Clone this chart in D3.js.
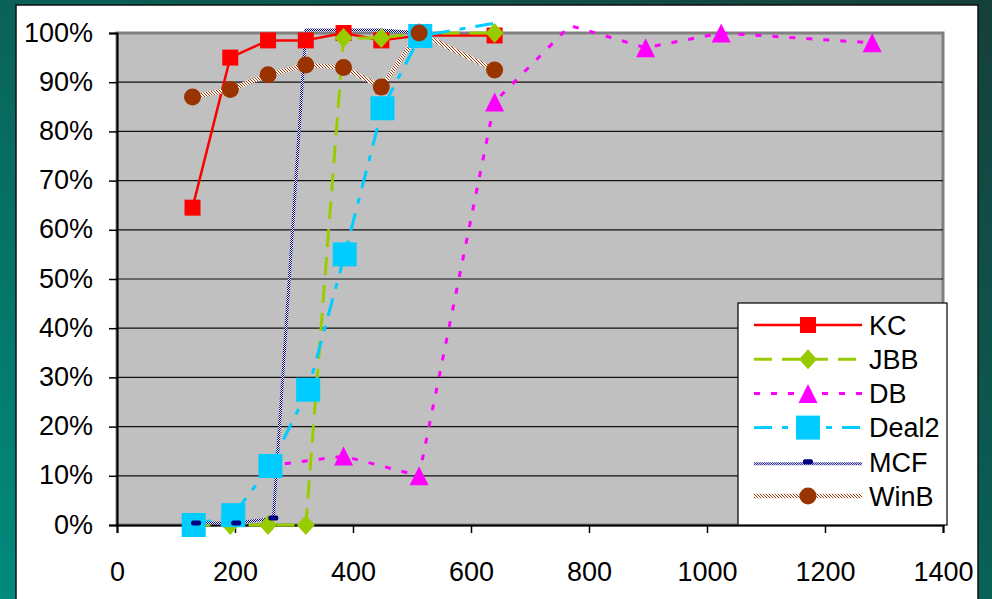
<!DOCTYPE html>
<html>
<head>
<meta charset="utf-8">
<script src="https://cdn.jsdelivr.net/npm/d3@7"></script>
<style>
  html, body { margin: 0; padding: 0; background: #0d5a52; }
  svg { display: block; font-family: "Liberation Sans", Arial, sans-serif; }
</style>
</head>
<body>
<script>
// Data (x = problem size, y = percent)
const xTicks = [0, 200, 400, 600, 800, 1000, 1200, 1400];
const yTicks = [0, 10, 20, 30, 40, 50, 60, 70, 80, 90, 100];

const kcX = [128, 192, 256, 320, 384, 448, 512, 640];
const kcY = [64.5, 95, 98.5, 98.5, 100, 98.5, 99.5, 99.5];

const jbbX = [128, 192, 256, 320, 384, 448, 512, 640];
const jbbY = [0, 0, 0, 0, 99, 99, 100, 100];

const dbX = [256, 384, 512, 640, 768, 896, 1024, 1280];
const dbY = [12, 14, 10, 86, 101.5, 97, 100, 98];

const deal2X = [130, 197, 260, 324, 386, 450, 514, 640];
const deal2Y = [0, 2, 12, 27.5, 55, 84.7, 99.4, 102];

const mcfX = [134, 202, 265, 320, 384, 448, 514];
const mcfY = [0.4, 0.4, 1.4, 100.6, 100.6, 100.6, 100];

const winbX = [128, 192, 256, 320, 384, 448, 512, 640];
const winbY = [87, 88.5, 91.5, 93.5, 93, 89, 100, 92.5];

const W = 992, H = 599;
const plot = { left: 117, top: 33, right: 943, bottom: 525 };

const svg = d3.select("body").append("svg")
    .attr("width", W)
    .attr("height", H);

const defs = svg.append("defs");

// teal slide background
const bg = defs.append("linearGradient").attr("id", "bg")
    .attr("x1", 1).attr("y1", 0).attr("x2", 0).attr("y2", 1);
bg.append("stop").attr("offset", 0).attr("stop-color", "#163f39");
bg.append("stop").attr("offset", 0.45).attr("stop-color", "#0a5e55");
bg.append("stop").attr("offset", 1).attr("stop-color", "#008b7d");

// dotted strokes for the hatched lines
function hatch(id, color, n) {
    const p = defs.append("pattern").attr("id", id)
        .attr("width", n).attr("height", n)
        .attr("patternUnits", "userSpaceOnUse");
    p.append("rect").attr("width", n).attr("height", n).attr("fill", "#fff");
    d3.range(n).forEach(i => {
        p.append("rect").attr("x", i).attr("y", (i * (n === 2 ? 1 : 1)) % n)
            .attr("width", 1).attr("height", 1).attr("fill", color);
    });
}
hatch("hatchNavy", "#000080", 2);
hatch("hatchBrown", "#993300", 3);

svg.append("rect").attr("width", W).attr("height", H).attr("fill", "url(#bg)");
svg.append("rect")
    .attr("x", 16).attr("y", 5).attr("width", 962).attr("height", H)
    .attr("fill", "#fff").attr("stroke", "#111").attr("stroke-width", 1.5);

const x = d3.scaleLinear().domain([0, 1400]).range([plot.left, plot.right]);
const y = d3.scaleLinear().domain([0, 100]).range([plot.bottom, plot.top]);

// plot area
svg.append("rect")
    .attr("x", plot.left).attr("y", plot.top)
    .attr("width", plot.right - plot.left).attr("height", plot.bottom - plot.top)
    .attr("fill", "#c0c0c0").attr("stroke", "#808080").attr("stroke-width", 3);

// gridlines
svg.append("g").selectAll("line")
    .data(yTicks.filter(d => d > 0 && d < 100))
    .join("line")
    .attr("x1", plot.left).attr("x2", plot.right)
    .attr("y1", d => y(d)).attr("y2", d => y(d))
    .attr("stroke", "#111").attr("stroke-width", 1.2);

// axes
const yAxis = svg.append("g")
    .attr("transform", `translate(${plot.left},0)`)
    .call(d3.axisLeft(y).tickValues(yTicks).tickSize(8).tickPadding(16)
        .tickFormat(d => d + "%"));
const xAxis = svg.append("g")
    .attr("transform", `translate(0,${plot.bottom})`)
    .call(d3.axisBottom(x).tickValues(xTicks).tickSize(8).tickPadding(30)
        .tickFormat(d3.format("d")));

[yAxis, xAxis].forEach(a => {
    a.select(".domain").attr("stroke", "#000").attr("stroke-width", 2);
    a.selectAll(".tick line").attr("stroke", "#000").attr("stroke-width", 1.5);
    a.selectAll("text").attr("fill", "#000").attr("font-size", 27);
});
xAxis.selectAll(".tick text").attr("dy", "0.68em");
yAxis.selectAll(".tick text").attr("dy", "0.30em");

// series
const series = [
    { name: "KC", xs: kcX, ys: kcY, stroke: "#ff0000", width: 2.5, dash: null, marker: "square", size: 16, fill: "#ff0000" },
    { name: "JBB", xs: jbbX, ys: jbbY, stroke: "#99cc00", width: 3, dash: "18,10", marker: "diamond", size: 18, fill: "#99cc00" },
    { name: "DB", xs: dbX, ys: dbY, stroke: "#ff00ff", width: 3, dash: "6,11", marker: "triangle", size: 19, fill: "#ff00ff" },
    { name: "Deal2", xs: deal2X, ys: deal2Y, stroke: "#00ccff", width: 3, dash: "18,10,6,10", marker: "square", size: 24, fill: "#00ccff" },
    { name: "MCF", xs: mcfX, ys: mcfY, stroke: "url(#hatchNavy)", width: 3, dash: null, marker: "dash", size: 10, fill: "#000080" },
    { name: "WinB", xs: winbX, ys: winbY, stroke: "url(#hatchBrown)", width: 4.5, dash: null, marker: "circle", size: 17, fill: "#993300" }
];
series.forEach(s => { s.points = s.xs.map((v, i) => ({ x: v, y: s.ys[i] })); });

const line = d3.line().x(d => x(d.x)).y(d => y(d.y));

function drawMarker(g, type, size, fill) {
    const h = size / 2;
    if (type === "square") {
        g.append("rect").attr("x", -h).attr("y", -h).attr("width", size).attr("height", size).attr("fill", fill);
    } else if (type === "diamond") {
        g.append("path").attr("d", `M0,${-h - 1}L${h},0L0,${h + 1}L${-h},0Z`).attr("fill", fill);
    } else if (type === "triangle") {
        g.append("path").attr("d", `M0,${-h}L${h},${h}L${-h},${h}Z`).attr("fill", fill);
    } else if (type === "circle") {
        g.append("circle").attr("r", h).attr("fill", fill);
    } else if (type === "dash") {
        g.append("rect").attr("x", -h).attr("y", -2.5).attr("width", size).attr("height", 5)
            .attr("rx", 2).attr("fill", fill);
    }
}

// all lines first, then markers (points above the axis max get no marker)
const linesG = svg.append("g");
series.forEach(s => {
    linesG.append("path")
        .datum(s.points)
        .attr("fill", "none")
        .attr("stroke", s.stroke)
        .attr("stroke-width", s.width)
        .attr("stroke-dasharray", s.dash)
        .attr("stroke-linejoin", "round")
        .attr("d", line);
});
const markersG = svg.append("g");
series.forEach(s => {
    s.points.filter(d => d.y <= 100).forEach(d => {
        const g = markersG.append("g").attr("transform", `translate(${x(d.x)},${y(d.y)})`);
        drawMarker(g, s.marker, s.size, s.fill);
    });
});

// legend
const legend = svg.append("g");
legend.append("rect")
    .attr("x", 738).attr("y", 303).attr("width", 209).attr("height", 222)
    .attr("fill", "#fff").attr("stroke", "#000").attr("stroke-width", 1.2);
series.forEach((s, i) => {
    const cy = 325 + i * 34.2;
    const row = legend.append("g").attr("transform", `translate(0,${cy})`);
    const ly = s.marker === "dash" ? 2 : 0;
    row.append("line")
        .attr("x1", 754).attr("x2", 862).attr("y1", ly).attr("y2", ly)
        .attr("stroke", s.stroke).attr("stroke-width", s.width)
        .attr("stroke-dasharray", s.dash);
    const m = row.append("g").attr("transform", "translate(808,0)");
    drawMarker(m, s.marker, s.size, s.fill);
    row.append("text")
        .attr("x", 869).attr("y", 0).attr("dy", "0.36em")
        .attr("font-size", 27).attr("fill", "#000")
        .text(s.name);
});
</script>
</body>
</html>
